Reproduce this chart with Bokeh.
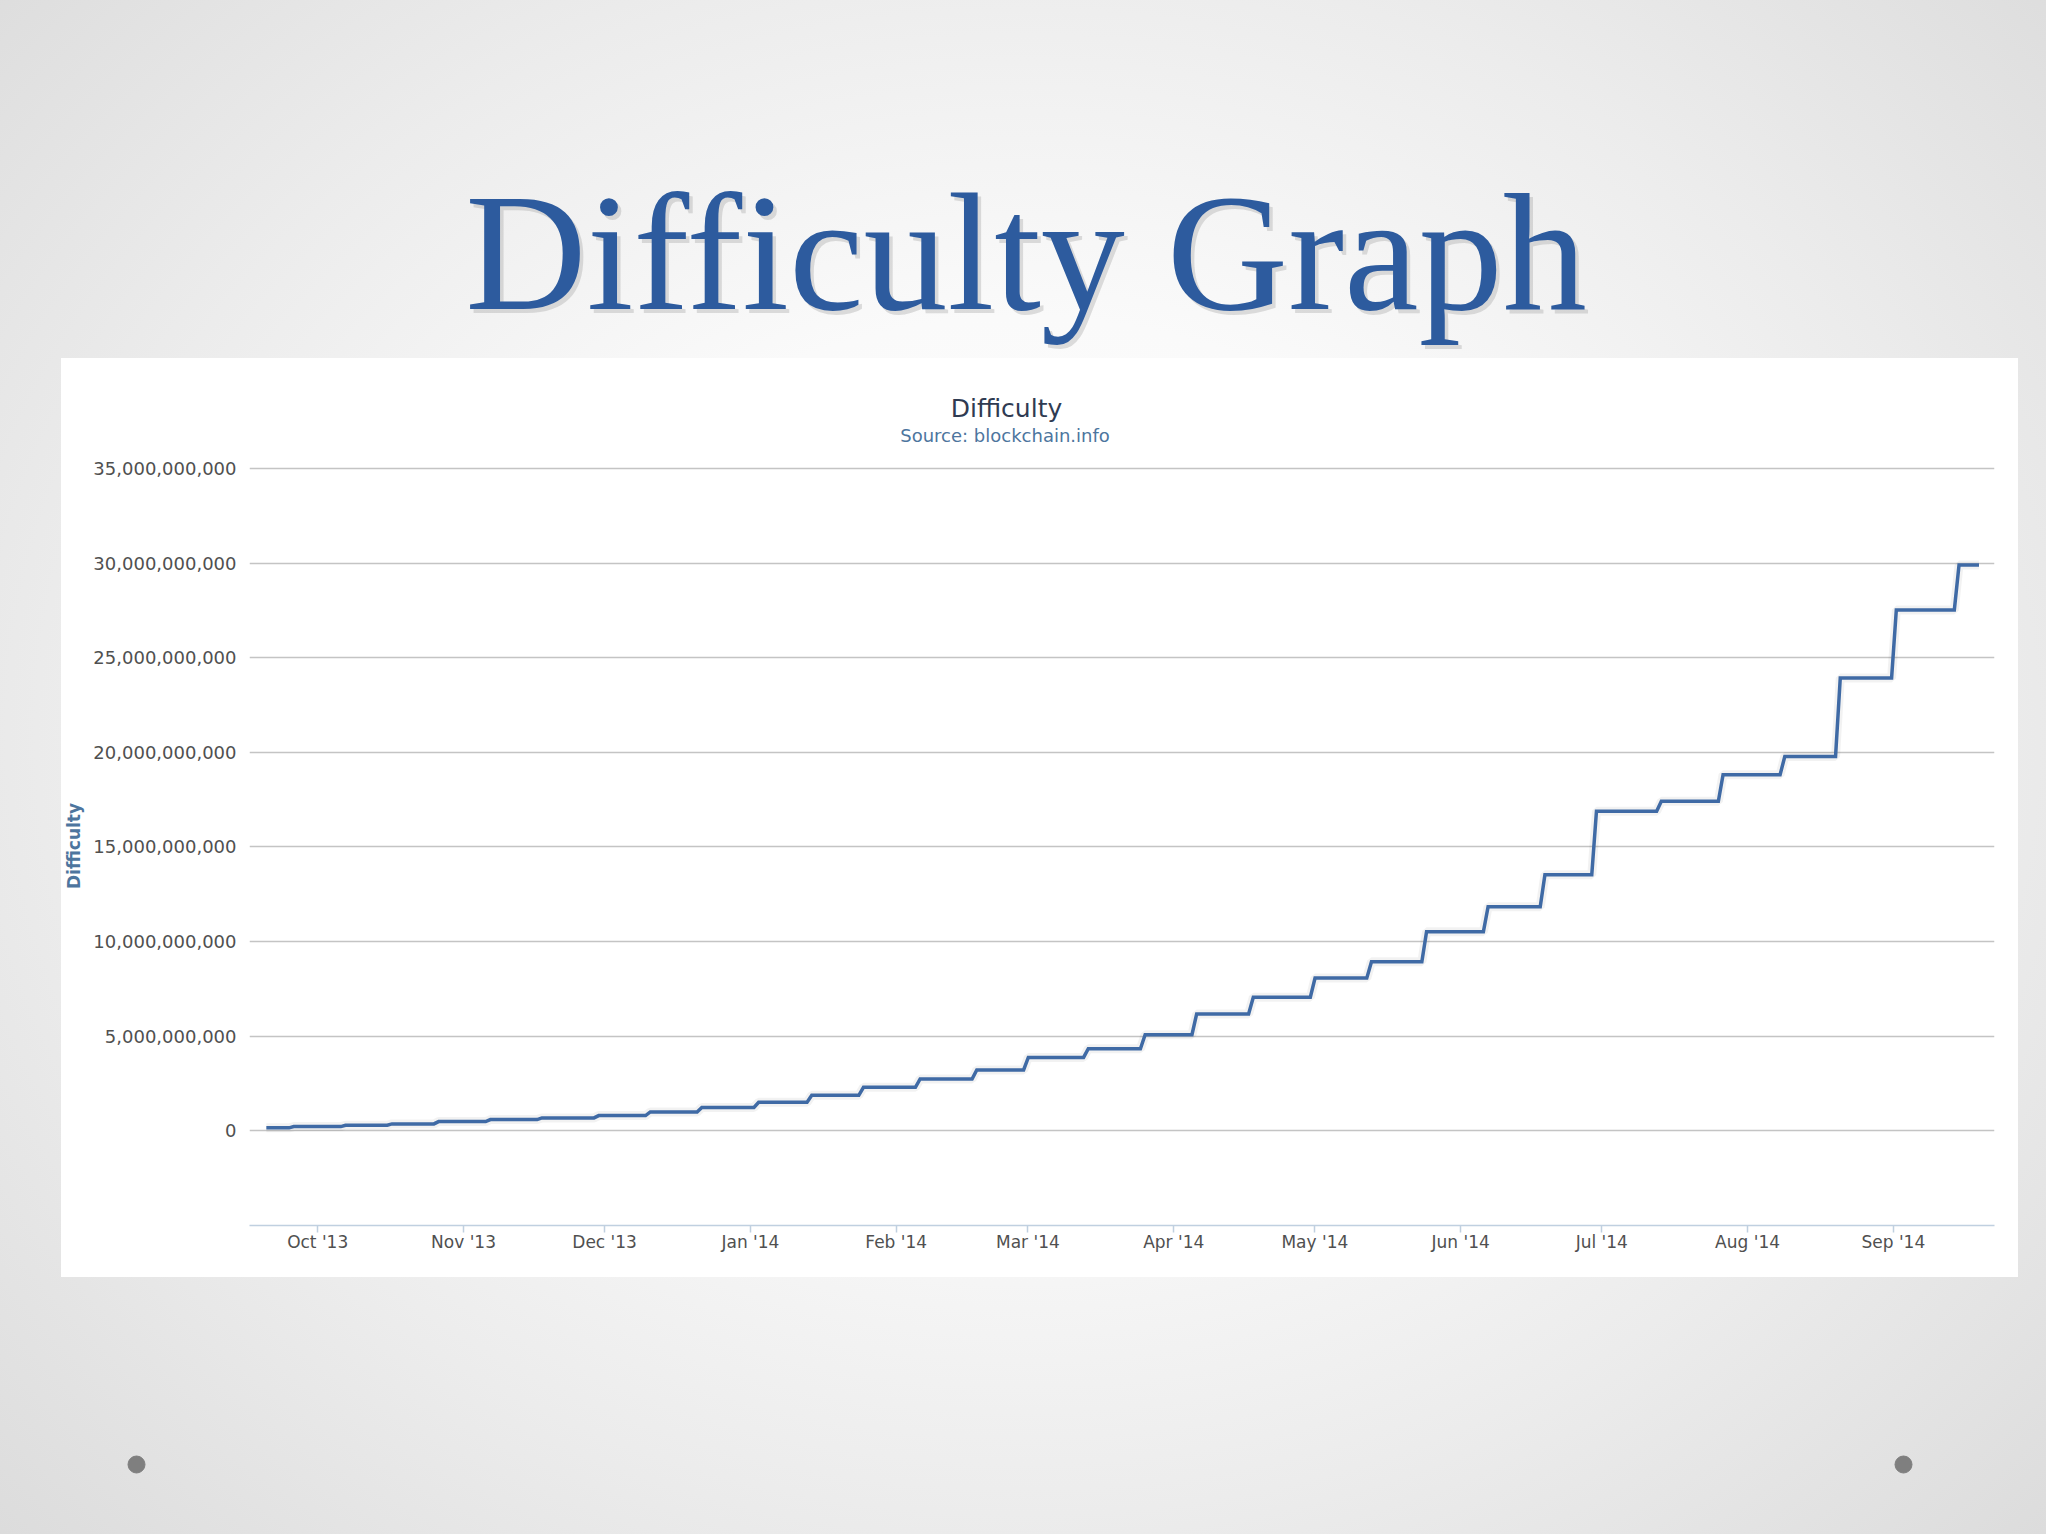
import pandas as pd
from bokeh.plotting import figure
from bokeh.models import Range1d, FixedTicker, NumeralTickFormatter, DatetimeTickFormatter, Spacer
from bokeh.layouts import column, row
from bokeh.core.properties import value
from bokeh.embed import file_html
from bokeh.resources import INLINE

# ---------------- data ----------------
change_times = [
    "2013-09-20 02:00", "2013-09-25 10:00", "2013-10-06 10:00", "2013-10-16 07:00",
    "2013-10-26 05:00", "2013-11-06 05:00", "2013-11-17 04:00", "2013-11-29 06:00",
    "2013-12-10 05:00", "2013-12-21 04:00", "2014-01-02 06:00", "2014-01-13 13:00",
    "2014-01-24 13:00", "2014-02-05 14:00", "2014-02-17 15:00", "2014-02-28 14:00",
    "2014-03-13 08:00", "2014-03-25 10:00", "2014-04-05 09:00", "2014-04-17 10:00",
    "2014-04-30 13:00", "2014-05-12 13:00", "2014-05-24 06:00", "2014-06-06 08:00",
    "2014-06-18 10:00", "2014-06-29 09:00", "2014-07-13 04:00", "2014-07-26 07:00",
    "2014-08-08 10:00", "2014-08-20 05:00", "2014-09-01 03:00", "2014-09-14 11:00",
]
difficulty = [
    0.158e9, 0.227e9, 0.297e9, 0.367e9, 0.49e9, 0.596e9, 0.685e9, 0.807e9,
    1.00e9, 1.24e9, 1.51e9, 1.88e9, 2.30e9, 2.74e9, 3.22e9, 3.88e9,
    4.34e9, 5.08e9, 6.18e9, 7.06e9, 8.07e9, 8.94e9, 10.52e9, 11.84e9,
    13.53e9, 16.89e9, 17.41e9, 18.82e9, 19.78e9, 23.93e9, 27.52e9, 29.89e9,
]
end_time = "2014-09-19 05:00"

tick_months = ["2013-10-01", "2013-11-01", "2013-12-01", "2014-01-01", "2014-02-01",
               "2014-03-01", "2014-04-01", "2014-05-01", "2014-06-01", "2014-07-01",
               "2014-08-01", "2014-09-01"]
y_ticks = [0, 5e9, 10e9, 15e9, 20e9, 25e9, 30e9, 35e9]

slide_title = "Difficulty Graph"
chart_title = "Difficulty"
chart_subtitle = "Source: blockchain.info"
y_title = "Difficulty"


def ms(s):
    return pd.Timestamp(s).value / 1e6


# step line built from the change points
half = 12 * 3600 * 1000
t = [ms(s) for s in change_times]
xs, ys = [t[0]], [difficulty[0]]
for i in range(1, len(t)):
    xs += [t[i] - half, t[i] + half]
    ys += [difficulty[i - 1], difficulty[i]]
xs.append(ms(end_time))
ys.append(difficulty[-1])

FONT = "DejaVu Sans"
W = 2046
TOP_H = 358
PANEL_W = 1957
HEAD_H = 98
CHART_H = 821
BOT_H = 257

# ---------------- slide title ----------------
top = figure(width=W, height=TOP_H, x_range=Range1d(0, W), y_range=Range1d(0, TOP_H),
             toolbar_location=None, output_backend="svg", min_border=0,
             x_axis_location=None, y_axis_location=None,
             border_fill_alpha=0, background_fill_alpha=0, outline_line_color=None)
top.frame_align = False
top.grid.visible = False
top.text(x=[1029], y=[103], text=[slide_title], text_font=value("Liberation Serif"),
         text_font_size="168px", text_color="#8c8c8c", text_alpha=0.28,
         text_align="center", text_baseline="alphabetic")
top.text(x=[1025.5], y=[107], text=[slide_title], text_font=value("Liberation Serif"),
         text_font_size="168px", text_color="#2d5b9e",
         text_align="center", text_baseline="alphabetic")

# ---------------- chart heading (white panel top) ----------------
head = figure(width=PANEL_W, height=HEAD_H, x_range=Range1d(0, PANEL_W), y_range=Range1d(0, HEAD_H),
              toolbar_location=None, output_backend="svg", min_border=0,
              x_axis_location=None, y_axis_location=None,
              border_fill_alpha=0, background_fill_alpha=0, outline_line_color=None,
              styles={"background-color": "#ffffff"})
head.frame_align = False
head.grid.visible = False
head.text(x=[945], y=[48], text=[chart_title], text_font=value(FONT), text_font_size="25px",
          text_color="#2f3b52", text_align="center", text_baseline="alphabetic")
head.text(x=[943.5], y=[21], text=[chart_subtitle], text_font=value(FONT), text_font_size="18px",
          text_color="#4d759e", text_align="center", text_baseline="alphabetic")

# ---------------- chart ----------------
p = figure(width=PANEL_W, height=CHART_H, x_axis_type="datetime",
           x_range=Range1d(ms("2013-09-16 12:00"), ms("2014-09-22 12:00")),
           y_range=Range1d(-5e9, 35.1e9),
           toolbar_location=None, output_backend="svg",
           min_border_left=187, min_border_right=24, min_border_top=10, min_border_bottom=52,
           border_fill_alpha=0, background_fill_alpha=0, outline_line_color=None,
           styles={"background-color": "#ffffff"})
p.frame_align = False

p.line(xs, ys, line_width=9, line_color="#000000", line_alpha=0.05)
p.line(xs, ys, line_width=3.5, line_color="#3f6aa5", line_join="miter")

p.xgrid.visible = False
p.ygrid.grid_line_color = "#c4c4c4"
p.ygrid.grid_line_width = 1.5
p.ygrid.ticker = FixedTicker(ticks=y_ticks)

p.yaxis.ticker = FixedTicker(ticks=y_ticks)
p.yaxis.formatter = NumeralTickFormatter(format="0,0")
p.yaxis.axis_line_color = None
p.yaxis.major_tick_line_color = None
p.yaxis.major_tick_out = 0
p.yaxis.major_tick_in = 0
p.yaxis.minor_tick_line_color = None
p.yaxis.minor_tick_out = 0
p.yaxis.major_label_standoff = 13
p.yaxis.major_label_text_font = FONT
p.yaxis.major_label_text_font_size = "18px"
p.yaxis.major_label_text_color = "#505050"
p.yaxis.axis_label = y_title
p.yaxis.axis_label_text_font = FONT
p.yaxis.axis_label_text_font_size = "17px"
p.yaxis.axis_label_text_font_style = "bold"
p.yaxis.axis_label_text_color = "#4d759e"
p.yaxis.axis_label_standoff = 6

p.xaxis.ticker = FixedTicker(ticks=[ms(m) for m in tick_months])
fmt = "%b '%y"
p.xaxis.formatter = DatetimeTickFormatter(milliseconds=fmt, seconds=fmt, minsec=fmt, minutes=fmt,
                                          hourmin=fmt, hours=fmt, days=fmt, months=fmt, years=fmt)
p.xaxis.axis_line_color = "#c0d0e0"
p.xaxis.axis_line_width = 1.5
p.xaxis.major_tick_line_color = "#c0d0e0"
p.xaxis.major_tick_line_width = 1.5
p.xaxis.major_tick_out = 7
p.xaxis.major_tick_in = 0
p.xaxis.minor_tick_line_color = None
p.xaxis.minor_tick_out = 0
p.xaxis.major_label_standoff = -1
p.xaxis.major_label_text_font = FONT
p.xaxis.major_label_text_font_size = "17px"
p.xaxis.major_label_text_color = "#505050"

# ---------------- slide bottom with bullets ----------------
bottom = figure(width=W, height=BOT_H, x_range=Range1d(0, W), y_range=Range1d(0, BOT_H),
                toolbar_location=None, output_backend="svg", min_border=0,
                x_axis_location=None, y_axis_location=None,
                border_fill_alpha=0, background_fill_alpha=0, outline_line_color=None)
bottom.frame_align = False
bottom.grid.visible = False
bottom.scatter(x=[136, 1903], y=[70, 70], size=17, marker="circle",
               fill_color="#7f7f7f", line_color="#7f7f7f")

layout = column(
    top,
    row(Spacer(width=61, height=HEAD_H + CHART_H), column(head, p, spacing=0), spacing=0),
    bottom,
    spacing=0,
    styles={"background": "radial-gradient(ellipse 72% 78% at 50% 48%, #ffffff 0%, #fafafa 35%, "
                          "#ececec 65%, #dadada 100%)"},
)

open("out.html", "w").write(file_html(layout, INLINE))
